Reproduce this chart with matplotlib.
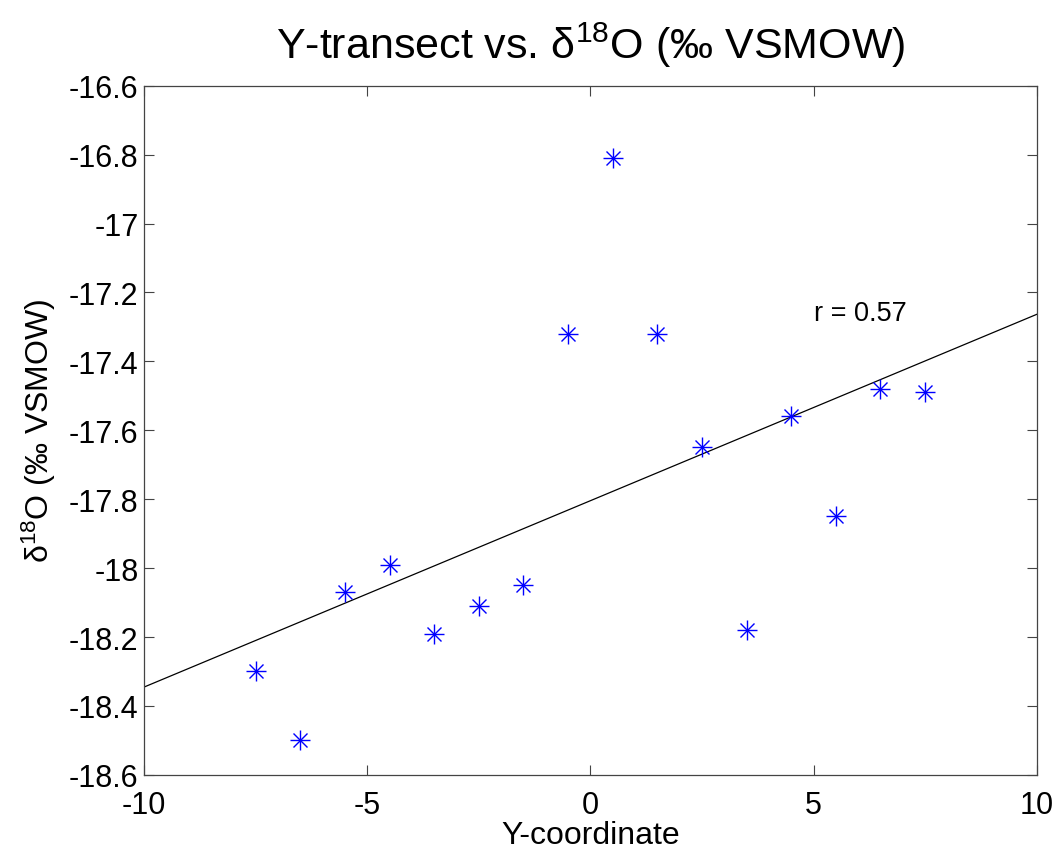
import numpy as np
import matplotlib
matplotlib.use("Agg")
import matplotlib.pyplot as plt

# Dados
y_coord = [-7.5, -6.5, -5.5, -4.5, -3.5, -2.5, -1.5, -0.5,
           0.5, 1.5, 2.5, 3.5, 4.5, 5.5, 6.5, 7.5]
d18O = [-18.30, -18.50, -18.07, -17.99, -18.19, -18.11, -18.05, -17.32,
        -16.81, -17.32, -17.65, -18.18, -17.56, -17.85, -17.48, -17.49]
r_label = "r = 0.57"

plt.rcParams.update({"font.family": "Liberation Sans",
                     "mathtext.fontset": "custom",
                     "mathtext.rm": "Liberation Sans",
                     "mathtext.it": "Liberation Sans:italic",
                     "font.size": 22,
                     "figure.dpi": 100})

fig = plt.figure(figsize=(10.60, 8.54))
ax = fig.add_axes([0.136, 0.0915, 0.842, 0.807])

x = np.array(y_coord)
y = np.array(d18O)

# Ajuste linear
p = np.polyfit(x, y, 1)
xl = np.array([-10, 10])
ax.plot(xl, np.polyval(p, xl), color="black", linewidth=0.9)

# asterisco estilo MATLAB (+ e x sobrepostos)
ax.plot(x, y, linestyle="none", marker="+", markersize=15,
        markeredgewidth=1.0, color="blue")
ax.plot(x, y, linestyle="none", marker="x", markersize=10.5,
        markeredgewidth=1.0, color="blue")

ax.text(5, -17.26, r_label, fontsize=19.5, ha="left", va="center")

ax.set_xlim(-10, 10)
ax.set_ylim(-18.6, -16.6)
ax.set_xticks([-10, -5, 0, 5, 10])
ax.set_yticks(np.arange(-18.6, -16.59, 0.2))
ax.set_yticklabels(["%g" % round(v, 1) for v in np.arange(-18.6, -16.59, 0.2)])
ax.set_xticklabels(["-10", "-5", "0", "5", "10"])

ax.tick_params(direction="in", top=True, right=True, length=7,
               width=0.8, color="#444444", labelsize=22, pad=4)
ax.tick_params(axis="x", pad=11)
for s in ax.spines.values():
    s.set_color("#444444")
    s.set_linewidth(0.9)

ax.set_xlabel("Y-coordinate", fontsize=23, labelpad=0)
ax.set_ylabel("δ$^{18}$O (‰ VSMOW)", fontsize=23, labelpad=8)
ax.set_title("Y-transect vs. δ$^{18}$O (‰ VSMOW)", fontsize=31, pad=20)

fig.savefig("out.png", dpi=100)
